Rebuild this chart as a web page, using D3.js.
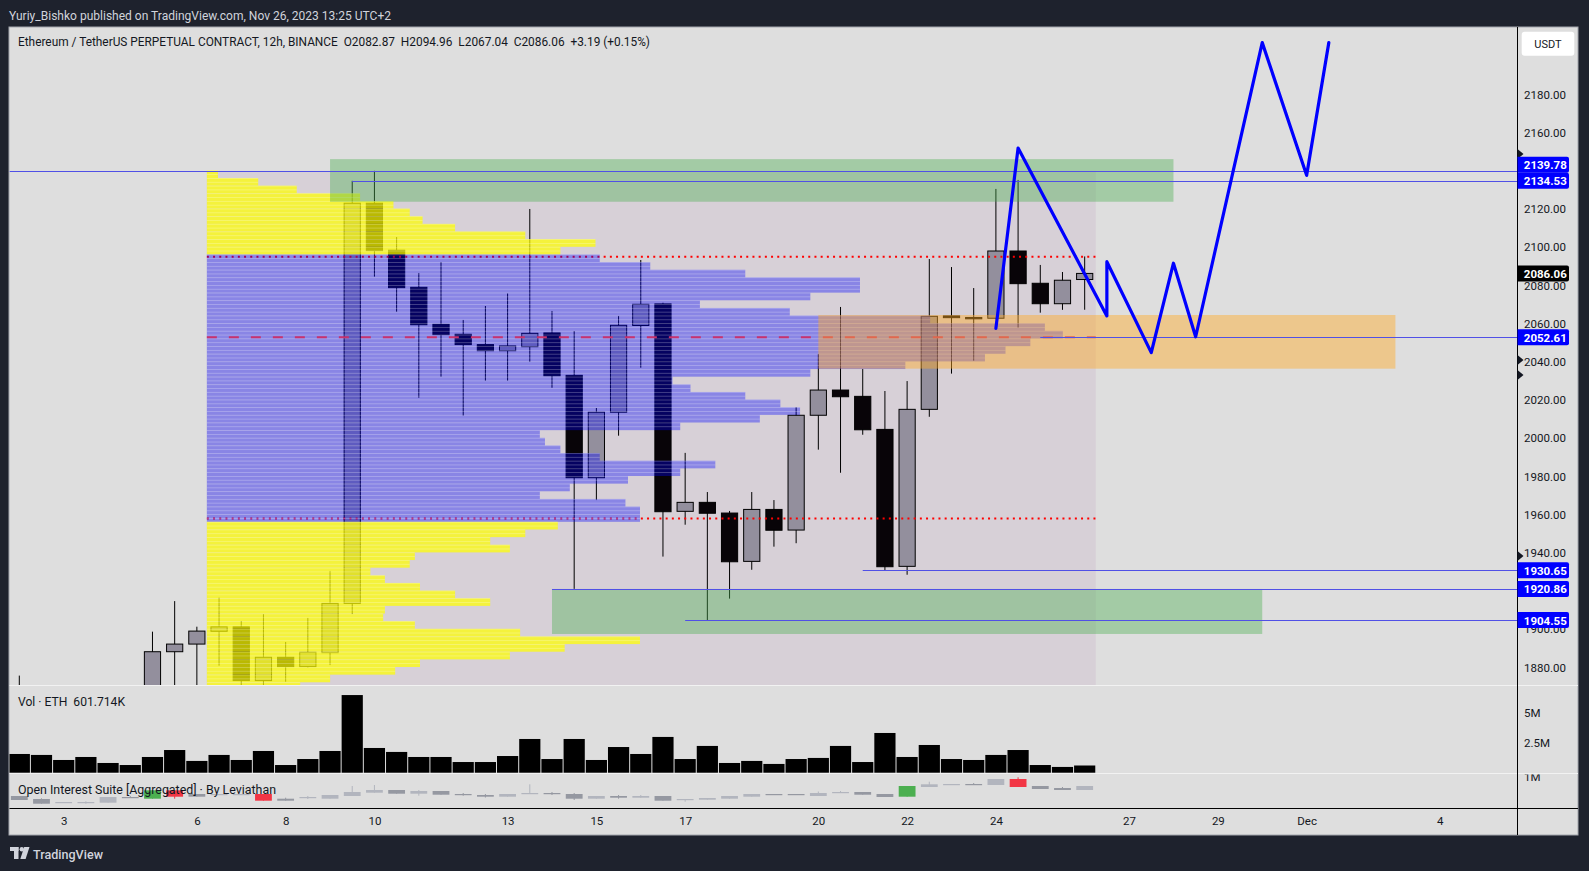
<!DOCTYPE html>
<html><head><meta charset="utf-8">
<script src="https://cdn.jsdelivr.net/npm/d3@7/dist/d3.min.js"></script>
<style>
html,body{margin:0;padding:0;background:#1e222d;overflow:hidden;}
svg{display:block;}
text{font-family:Roboto,"Noto Sans","DejaVu Sans",sans-serif;white-space:pre;}
</style></head><body>
<svg id="c" width="1589" height="871"></svg>
<script>
// ---------------- DATA ----------------
const firstCandle = "2023-11-02T00:00:00Z";   // 12h candles from here
const candleOpen  = [1862,1856,1848,1832,1842,1852,1862,1888,1892,1898.7,1901,1872.9,1885.1,1880.2,1887.5,1913.3,2122.8,2098.2,2078.8,2059.4,2054.2,2048.8,2045.6,2047.7,2054.9,2032.7,1979.1,2013.4,2058.8,2070.1,1961.5,1966.2,1960.6,1935.3,1962.5,1951.7,2011.8,2025,2021.7,2004.4,1932.7,2014.9,2063.8,2063.0,2062.6,2097.8,2080.9,2070.2,2082.87];
const candleHigh  = [1875.5,1866,1862,1850,1858,1866,1898.5,1914.5,1901.1,1916.3,1904.1,1907.7,1893.1,1905.7,1930.3,2134.53,2139.78,2105.1,2086.3,2092,2061.7,2069,2075.6,2119.8,2066.4,2055.9,2015.6,2063.8,2093.1,2070.7,1992.1,1971.6,1961.7,1971.6,1967.4,2016,2043.9,2068.5,2036,2024.5,2029.7,2093.6,2089.4,2078.4,2130.3,2135,2090.5,2086.8,2094.96];
const candleLow   = [1846,1840,1825,1820,1835,1845,1855,1866,1868,1880.7,1866,1868,1872.3,1879.7,1881,1907.7,2084.4,2066,2021,2032,2011.6,2029.9,2029.9,2039.8,2026.2,1920.9,1967.4,2001.1,2036.7,1937.8,1954.5,1904.55,1915.8,1930.9,1943,1944.8,1993.8,1981.7,2001.6,1930.65,1928.3,2011,2033.6,2040.4,2062.1,2057.6,2065.5,2067,2067.04];
const candleClose = [1856,1848,1832,1842,1852,1862,1888,1892,1898.8,1901,1872.9,1885.1,1880.2,1887.7,1913.3,2122.8,2098,2078.6,2059.2,2054,2048.8,2045.6,2048.1,2054.7,2032.5,1979.1,2013.4,2058.9,2069.9,1961.3,1966.2,1960.5,1935.1,1962.5,1951.6,2011.8,2025,2021.5,2004.2,1932.5,2014.9,2063.6,2062.9,2062.3,2097.8,2080.7,2070.2,2082.5,2086.06];
const volumeM     = [1.56,1.48,1.06,1.31,0.81,0.64,1.31,1.89,0.98,1.48,1.06,1.81,0.64,1.14,1.81,6.47,2.06,1.73,1.31,1.31,0.89,0.89,1.39,2.81,1.14,2.81,1.06,2.14,1.56,2.98,1.14,2.23,0.81,0.98,0.73,1.14,1.23,2.23,0.89,3.31,1.31,2.31,1.14,1.06,1.48,1.89,0.64,0.48,0.60];
// Open interest strip (relative units)
const oiTop    = [12,9,6,6,11,11,17.7,17.7,14,14,14,14,9.3,11,13,16,18,18,17,17,14,13,14,15,15,14,12,12,12,12,9,10,12,14,14,14,15,16,16,14,22,23.7,24,24,29,29,22,20,22];
const oiBottom = [8,4.3,5,5,5.3,10,9.3,11.3,11.3,13,13.3,7.3,7.3,10,9.3,12,15.3,14.3,14.3,13.3,13,11.3,11.3,14,14,9.3,9.3,10.3,10.3,7.3,8.3,8.3,9.3,11.3,13.3,13.3,12,15,13.3,11,11.3,21,23,23,23,21,19,18,18];
const oiHigh   = [12,9.7,6,6.7,11,12,17.7,17.7,14,14,14,14,10.3,12,13,22,23,18,18,17,15,14,14,23.7,16,15,12,13,13,12,9,10,12,14,14,14,16.5,17,16,14,22,26.3,24,25,29,30.7,22,21,22];
const oiLow    = [8,4.3,5,4.3,5.3,10,9.3,9.3,11.3,13,13.3,7.3,7.3,9,9.3,12,15.3,14.3,12.3,13.3,12.3,10.5,11.3,14,13,8,9.3,9.3,10.3,7.3,6.3,8.3,9.3,11.3,13.3,13.3,12,15,13.3,11,11.3,21,23,23,23,21,19,18,18];
const oiKind   = "ddllldgrdllrdlllldldddllddldldllllddllddglldlrddl".split("");
// Volume profile (4-point rows from 2140 down), relative volume
const profileTop = 2140, profileRow = 4;
const profileVolume = [1.3,6.0,10.5,17.9,21.8,23.7,25.2,29.0,37.2,45.4,41.3,
  45.9,51.8,62.9,76.3,76.3,70.5,57.6,68.1,84.5,97.9,100,96.2,93.3,90.9,81.6,70.5,54.4,56.5,62.9,67.0,69.3,64.6,55.3,38.9,39.5,41.3,45.9,59.4,55.3,49.2,42.4,38.9,48.9,50.6,50.6,
  41.0,37.2,33.1,35.4,24.3,23.7,19.1,20.8,24.9,29.0,33.1,20.8,20.6,24.3,36.6,50.6,41.8,35.4,24.9,22.0,14.4,10.9];
const profileStart = "2023-11-06T05:24:00Z", profileEnd = "2023-11-26T06:00:00Z";
const valueAreaHigh = 2094.8, valueAreaLow = 1957.7, pocPrice = 2052.61;
// Zones
const zoneStart = ["2023-11-09T00:00:00Z","2023-11-14T00:00:00Z","2023-11-20T00:00:00Z"];
const zoneEnd   = ["2023-11-28T00:00:00Z","2023-11-30T00:00:00Z","2023-12-03T00:00:00Z"];
const zoneTop   = [2145.9, 1920.86, 2064.3];
const zoneBottom= [2123.6, 1897.3, 2036.2];
const zoneKind  = ["green","green","orange"];
// Horizontal levels
const levelPrice = [2139.78, 2134.53, 2052.61, 1930.65, 1920.86, 1904.55];
const levelStart = [null, "2023-11-09T12:00:00Z", "2023-11-25T00:00:00Z", "2023-11-21T00:00:00Z", "2023-11-14T00:00:00Z", "2023-11-17T00:00:00Z"];
// Projection path
const pathTimes  = ["2023-11-24T00:00:00Z","2023-11-24T12:00:00Z","2023-11-26T12:00:00Z","2023-11-26T12:00:00Z","2023-11-27T12:00:00Z","2023-11-28T00:00:00Z","2023-11-28T12:00:00Z","2023-11-30T00:00:00Z","2023-12-01T00:00:00Z","2023-12-01T12:00:00Z"];
const pathPrices = [2057.3, 2151.7, 2063.8, 2092.2, 2044.6, 2091.4, 2052.9, 2206.9, 2137.4, 2206.9];
// Axes
const priceTicks = [2180,2160,2120,2100,2080,2060,2040,2020,2000,1980,1960,1940,1900,1880];
const timeTickDates  = ["2023-11-03","2023-11-06","2023-11-08","2023-11-10","2023-11-13","2023-11-15","2023-11-17","2023-11-20","2023-11-22","2023-11-24","2023-11-27","2023-11-29","2023-12-01","2023-12-04"];
const timeTickLabels = ["3","6","8","10","13","15","17","20","22","24","27","29","Dec","4"];
const volTicks = [5, 2.5];
const volTickLabels = ["5M","2.5M"];
const markerPrices = [2148.6, 2040.7, 2032.9, 1938.1];
const lastPrice = 2086.06;

// ---------------- LAYOUT ----------------
const svg = d3.select("#c");
const PL = 9.5, AX = 1517.5, PT = 27, PB = 685.5, VB = 773.5, OB = 808.5, PR = 1578, BB = 835;
const H12 = 12*3600*1000;
const t0 = new Date(firstCandle).getTime();
const x = d3.scaleTime().domain([new Date(t0), new Date(t0 + 64*H12)]).range([19.3, 1439.8]);
const yP = d3.scaleLinear().domain([1880, 2180]).range([667, 94]);
const yV = d3.scaleLinear().domain([0, 5]).range([772.7, 712.7]);
const yO = d3.scaleLinear().domain([0, 35]).range([808, 773]);
const slot = x(new Date(t0 + H12)) - x(new Date(t0));
const bw = slot * 0.73;
const times = d3.range(candleOpen.length).map(i => new Date(t0 + i*H12));
const T = s => new Date(s);
const txt = "#131722";
const NB = "\u00a0\u00a0";

svg.append("rect").attr("width",1589).attr("height",871).attr("fill","#1e222d");
svg.append("rect").attr("x",9).attr("y",PT).attr("width",PR-9).attr("height",BB-PT)
  .attr("fill","#dedede").attr("stroke","#a3a6ad").attr("stroke-width",1);

svg.append("text").attr("x",9).attr("y",15).attr("dominant-baseline","central")
  .attr("fill","#d1d4dc").attr("font-size",12.5).attr("textLength",382).attr("lengthAdjust","spacingAndGlyphs")
  .text("Yuriy_Bishko published on TradingView.com, Nov 26, 2023 13:25 UTC+2");

const defs = svg.append("defs");
defs.append("clipPath").attr("id","cp").append("rect").attr("x",PL).attr("y",PT).attr("width",AX-PL).attr("height",PB-PT);
defs.append("clipPath").attr("id","cv").append("rect").attr("x",PL).attr("y",PB).attr("width",AX-PL).attr("height",VB-PB);
defs.append("clipPath").attr("id","co").append("rect").attr("x",PL).attr("y",VB).attr("width",AX-PL).attr("height",OB-VB);
defs.append("clipPath").attr("id","c1m").attr("clipPathUnits","userSpaceOnUse").append("rect").attr("x",AX).attr("y",VB+1).attr("width",60).attr("height",OB-VB-1);

const gP = svg.append("g").attr("clip-path","url(#cp)");

// profile range box
const px0 = x(T(profileStart)), px1 = x(T(profileEnd));
gP.append("rect").attr("x",px0).attr("y",yP(2139.78)).attr("width",px1-px0).attr("height",PB-yP(2139.78)).attr("fill","#d7d0d7");

// candles
const gC = gP.append("g");
times.forEach((t,i)=>{
  const xc = x(t), o=candleOpen[i], c=candleClose[i], up = c>=o;
  gC.append("line").attr("x1",xc).attr("x2",xc).attr("y1",yP(candleHigh[i])).attr("y2",yP(candleLow[i])).attr("stroke","#000").attr("stroke-width",1);
  const y1 = yP(Math.max(o,c)), y2 = yP(Math.min(o,c));
  gC.append("rect").attr("x",xc-bw/2).attr("y",y1).attr("width",bw).attr("height",Math.max(1.2,y2-y1))
    .attr("fill", up ? "#938f9d" : "#080408").attr("stroke","#000").attr("stroke-width",1);
});

// VAH / VAL dotted lines (under profile)
[valueAreaHigh, valueAreaLow].forEach(p=>{
  gP.append("line").attr("x1",px0).attr("x2",px1).attr("y1",yP(p)).attr("y2",yP(p))
    .attr("stroke","#ff0000").attr("stroke-width",2).attr("stroke-dasharray","2,4.2");
});

// volume profile
const profX = d3.scaleLinear().domain([0,100]).range([px0, px0+856]);
const rowH = yP(profileTop - profileRow) - yP(profileTop);
profileVolume.forEach((v,i)=>{
  const top = profileTop - i*profileRow, mid = top - profileRow/2;
  const inVA = mid <= valueAreaHigh && mid >= valueAreaLow;
  const yt = yP(top), w = profX(v)-px0;
  gP.append("rect").attr("x",px0).attr("y",yt).attr("width",w).attr("height",rowH)
    .attr("fill", inVA ? "rgb(0,0,255)" : "rgb(255,255,0)").attr("fill-opacity", inVA ? 0.36 : 0.72);
  [0, rowH/2].forEach(off=>{
    gP.append("rect").attr("x",px0).attr("y",yt+off).attr("width",w).attr("height",0.8)
      .attr("fill","#fff").attr("fill-opacity",0.3);
  });
});

// POC
gP.append("line").attr("x1",px0).attr("x2",px1).attr("y1",yP(pocPrice)).attr("y2",yP(pocPrice))
  .attr("stroke","#c8326e").attr("stroke-width",2).attr("stroke-dasharray","10,12");

// zones
zoneStart.forEach((s,i)=>{
  const g = zoneKind[i]==="green";
  gP.append("rect").attr("x",x(T(s))).attr("y",yP(zoneTop[i])).attr("width",x(T(zoneEnd[i]))-x(T(s)))
    .attr("height",yP(zoneBottom[i])-yP(zoneTop[i]))
    .attr("fill", g ? "rgb(76,175,80)" : "rgb(255,170,40)").attr("fill-opacity", g ? 0.4 : 0.45);
});

// levels
levelPrice.forEach((p,i)=>{
  const xs = levelStart[i] ? x(T(levelStart[i])) : PL;
  gP.append("line").attr("x1",xs).attr("x2",AX).attr("y1",Math.round(yP(p))+0.5).attr("y2",Math.round(yP(p))+0.5)
    .attr("stroke","#5050e6").attr("stroke-width",1);
});

// projection path
const line = d3.line().x(d=>x(T(d[0]))).y(d=>yP(d[1]));
gP.append("path").attr("d", line(pathTimes.map((t,i)=>[t,pathPrices[i]])))
  .attr("fill","none").attr("stroke","#0000ff").attr("stroke-width",3.2).attr("stroke-linejoin","round").attr("stroke-linecap","round");

// header
svg.append("text").attr("x",18).attr("y",41.8).attr("dominant-baseline","central").attr("fill",txt)
  .attr("font-size",12.5).attr("textLength",632).attr("lengthAdjust","spacingAndGlyphs")
  .text("Ethereum / TetherUS PERPETUAL CONTRACT, 12h, BINANCE"+NB+"O2082.87"+NB+"H2094.96"+NB+"L2067.04"+NB+"C2086.06"+NB+"+3.19 (+0.15%)");

// volume pane
const gV = svg.append("g").attr("clip-path","url(#cv)");
times.forEach((t,i)=>{
  const xc = x(t);
  gV.append("rect").attr("x",xc-slot/2+0.5).attr("y",yV(volumeM[i])).attr("width",slot-1).attr("height",yV(0)-yV(volumeM[i])).attr("fill","#000");
});
svg.append("text").attr("x",18).attr("y",702).attr("dominant-baseline","central").attr("fill",txt)
  .attr("font-size",12).attr("textLength",107).attr("lengthAdjust","spacingAndGlyphs").text("Vol · ETH"+NB+"601.714K");

// OI pane
const gO = svg.append("g").attr("clip-path","url(#co)");
const oiCol = {d:"#9598a1", l:"#b2b5be", g:"#4caf50", r:"#f23645"};
times.forEach((t,i)=>{
  const xc = x(t), col = oiCol[oiKind[i]];
  gO.append("line").attr("x1",xc).attr("x2",xc).attr("y1",yO(oiHigh[i])).attr("y2",yO(oiLow[i])).attr("stroke",col).attr("stroke-width",1);
  gO.append("rect").attr("x",xc-bw/2-0.3).attr("y",yO(oiTop[i])).attr("width",bw+0.6).attr("height",Math.max(1.2,yO(oiBottom[i])-yO(oiTop[i]))).attr("fill",col);
});
svg.append("text").attr("x",18).attr("y",789.5).attr("dominant-baseline","central").attr("fill",txt)
  .attr("font-size",12).attr("textLength",258).attr("lengthAdjust","spacingAndGlyphs").text("Open Interest Suite [Aggregated] · By Leviathan");

// separators
[PB, VB].forEach(yy=>{
  svg.append("line").attr("x1",9.5).attr("x2",PR).attr("y1",yy).attr("y2",yy).attr("stroke","#f2f2f2").attr("stroke-width",1.2);
});
svg.append("line").attr("x1",9.5).attr("x2",PR).attr("y1",OB).attr("y2",OB).attr("stroke","#000").attr("stroke-width",1);
svg.append("line").attr("x1",AX).attr("x2",AX).attr("y1",PT).attr("y2",BB).attr("stroke","#000").attr("stroke-width",1);

// price axis
const gA = svg.append("g").attr("transform",`translate(${AX},0)`)
  .call(d3.axisRight(yP).tickValues(priceTicks).tickFormat(d3.format(".2f")).tickSize(0));
gA.select(".domain").remove();
gA.selectAll("text").attr("x",27.5).attr("dy",null).attr("dominant-baseline","central").attr("text-anchor","middle")
  .attr("font-size",11.5).attr("fill",txt).style("font-family","Roboto,sans-serif");

// volume axis
volTicks.forEach((v,i)=>{
  svg.append("text").attr("x",1524).attr("y",yV(v)).attr("dominant-baseline","central").attr("font-size",11.5).attr("fill",txt).text(volTickLabels[i]);
});
svg.append("g").attr("clip-path","url(#c1m)").append("text").attr("x",1524).attr("y",776.5).attr("dominant-baseline","central").attr("font-size",11.5).attr("fill",txt).text("1M");

// axis markers
markerPrices.forEach(p=>{
  const yy = yP(p);
  svg.append("path").attr("d",`M${AX},${yy-5}L${AX+6},${yy}L${AX},${yy+5}Z`).attr("fill","#131722");
});

// axis labels (boxes)
const boxH = 16;
const labels = levelPrice.map(p=>({p, bg:"#0000ff"})).concat([{p:lastPrice, bg:"#000"}]).sort((a,b)=>a.p-b.p);
let prevTop = 1e9;
labels.forEach(l=>{
  let cy = Math.min(yP(l.p), prevTop - boxH/2);
  prevTop = cy - boxH/2;
  svg.append("path").attr("d",`M${AX},${cy-boxH/2}h49.5a2,2 0 0 1 2,2v${boxH-4}a2,2 0 0 1 -2,2h-49.5z`).attr("fill",l.bg);
  svg.append("text").attr("x",AX+27.8).attr("y",cy+0.5).attr("dominant-baseline","central").attr("text-anchor","middle")
    .attr("font-size",11.5).attr("font-weight","bold").attr("fill","#fff").text(d3.format(".2f")(l.p));
});

// USDT
svg.append("rect").attr("x",1521.7).attr("y",31.7).attr("width",52.6).attr("height",24).attr("rx",3).attr("fill","#fff");
svg.append("text").attr("x",1548).attr("y",44).attr("dominant-baseline","central").attr("text-anchor","middle").attr("font-size",11).attr("fill",txt).text("USDT");

// time axis
const gT = svg.append("g").attr("transform",`translate(0,${OB})`)
  .call(d3.axisBottom(x).tickValues(timeTickDates.map(d=>new Date(d+"T00:00:00Z"))).tickFormat((d,i)=>timeTickLabels[i]).tickSize(0));
gT.select(".domain").remove();
gT.selectAll("text").attr("y",12.5).attr("dy",null).attr("dominant-baseline","central").attr("font-size",11.5).attr("fill",txt).style("font-family","Roboto,sans-serif");

// TradingView logo
const lg = svg.append("g").attr("fill","#d1d4dc");
lg.append("rect").attr("x",10).attr("y",847).attr("width",8.5).attr("height",4);
lg.append("rect").attr("x",14).attr("y",847).attr("width",4.5).attr("height",12);
lg.append("circle").attr("cx",21.8).attr("cy",849.2).attr("r",2.2);
lg.append("path").attr("d","M24.2,847H29.5L25.6,859H20.3Z");
lg.append("text").attr("x",33).attr("y",853.5).attr("dominant-baseline","central").attr("font-size",13.5).attr("font-weight",500)
  .attr("textLength",70).attr("lengthAdjust","spacingAndGlyphs").text("TradingView");
</script>
</body></html>
